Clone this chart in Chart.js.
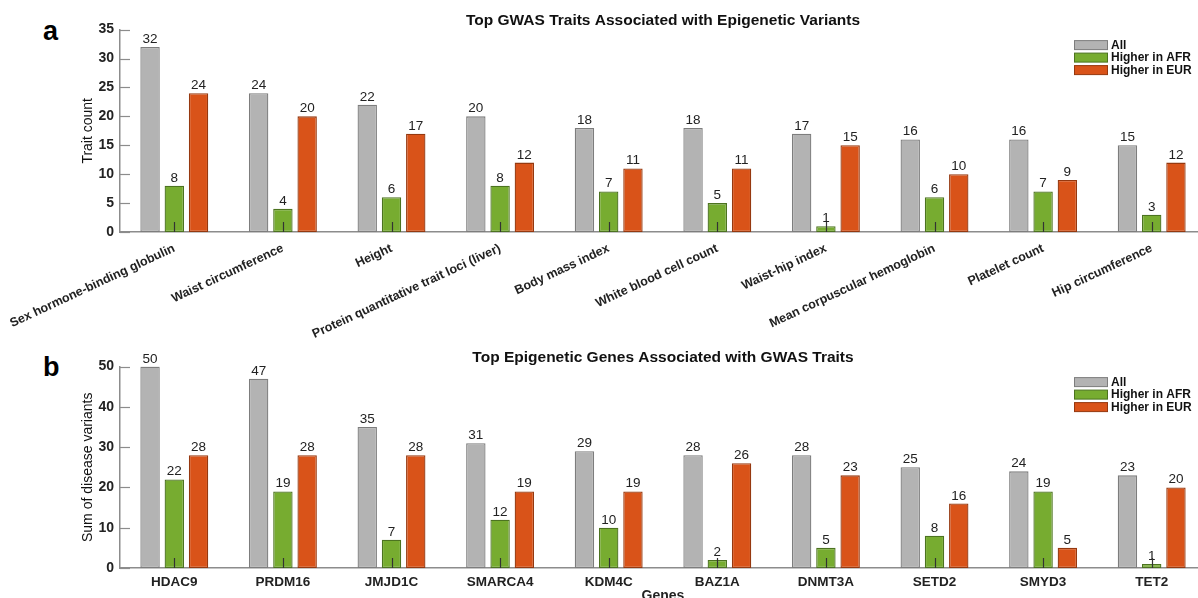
<!DOCTYPE html>
<html>
<head>
<meta charset="utf-8">
<script src="https://cdn.jsdelivr.net/npm/chart.js@4"></script>
<style>
  html, body { margin: 0; padding: 0; background: #fff; overflow: hidden; width: 1198px; height: 598px; }
  canvas { position: absolute; left: 0; }
  #topChart { top: 0; }
  #botChart { top: 345px; }
  .panel { position: absolute; left: 43px; font: bold 27px "Liberation Sans", Arial, sans-serif; color: #000; line-height: 27px; }
</style>
</head>
<body>
<div class="panel" style="top:18px">a</div>
<div class="panel" style="top:354px">b</div>
<canvas id="topChart" width="1206" height="345"></canvas>
<canvas id="botChart" width="1206" height="270"></canvas>
<script>
// data
const traits = [
  "Sex hormone-binding globulin", "Waist circumference", "Height",
  "Protein quantitative trait loci (liver)", "Body mass index",
  "White blood cell count", "Waist-hip index", "Mean corpuscular hemoglobin",
  "Platelet count", "Hip circumference"
];
const traitAll = [32, 24, 22, 20, 18, 18, 17, 16, 16, 15];
const traitAFR = [8, 4, 6, 8, 7, 5, 1, 6, 7, 3];
const traitEUR = [24, 20, 17, 12, 11, 11, 15, 10, 9, 12];
const traitTicks = [0, 5, 10, 15, 20, 25, 30, 35];

const genes = ["HDAC9", "PRDM16", "JMJD1C", "SMARCA4", "KDM4C", "BAZ1A", "DNMT3A", "SETD2", "SMYD3", "TET2"];
const geneAll = [50, 47, 35, 31, 29, 28, 28, 25, 24, 23];
const geneAFR = [22, 19, 7, 12, 10, 2, 5, 8, 19, 1];
const geneEUR = [28, 28, 28, 19, 19, 26, 23, 16, 5, 20];
const geneTicks = [0, 10, 20, 30, 40, 50];

const seriesNames = ["All", "Higher in AFR", "Higher in EUR"];
const FONT = '"Liberation Sans", Arial, sans-serif';

// numbers above bars
const valueLabels = {
  id: "valueLabels",
  afterDatasetsDraw(chart) {
    const ctx = chart.ctx;
    ctx.save();
    ctx.font = "13.5px " + FONT;
    ctx.fillStyle = "#222";
    ctx.textAlign = "center";
    ctx.textBaseline = "bottom";
    chart.data.datasets.forEach((ds, i) => {
      chart.getDatasetMeta(i).data.forEach((bar, j) => {
        ctx.fillText(ds.data[j], bar.x, bar.y - 1);
      });
    });
    ctx.restore();
  }
};

// matlab style ticks pointing into the axes
const inTicks = {
  id: "inTicks",
  afterDatasetsDraw(chart) {
    const ctx = chart.ctx;
    const area = chart.chartArea;
    const x = chart.scales.x;
    const y = chart.scales.y;
    ctx.save();
    ctx.lineWidth = 1.2;
    ctx.strokeStyle = "#8c8c8c";
    y.ticks.forEach(t => {
      const py = Math.round(y.getPixelForValue(t.value)) + 0.5;
      ctx.beginPath();
      ctx.moveTo(area.left, py);
      ctx.lineTo(area.left + 10, py);
      ctx.stroke();
    });
    ctx.strokeStyle = "#333";
    x.ticks.forEach((t, i) => {
      const px = Math.round(x.getPixelForTick(i)) + 0.5;
      ctx.beginPath();
      ctx.moveTo(px, area.bottom);
      ctx.lineTo(px, area.bottom - 10);
      ctx.stroke();
    });
    ctx.restore();
  }
};

// boxed legend in the upper right of the plot
const boxLegend = {
  id: "boxLegend",
  afterDraw(chart) {
    const ctx = chart.ctx;
    const area = chart.chartArea;
    const x0 = area.right - 132;
    ctx.save();
    ctx.font = "bold 12px " + FONT;
    ctx.textBaseline = "middle";
    ctx.textAlign = "left";
    chart.data.datasets.forEach((ds, i) => {
      const cy = area.top + 15.5 + i * 12.5;
      ctx.fillStyle = ds.backgroundColor;
      ctx.fillRect(x0, cy - 4.5, 34, 9);
      ctx.strokeStyle = ds.borderColor;
      ctx.lineWidth = 1;
      ctx.strokeRect(x0 + 0.5, cy - 4.5, 33, 9);
      ctx.fillStyle = "#111";
      ctx.fillText(ds.label, x0 + 37, cy + 0.5);
    });
    ctx.restore();
  }
};

function makeSets(all, afr, eur) {
  return [
    { label: seriesNames[0], data: all, backgroundColor: "#b3b3b3", borderColor: "#7d7d7d" },
    { label: seriesNames[1], data: afr, backgroundColor: "#77ac30", borderColor: "#4c7320" },
    { label: seriesNames[2], data: eur, backgroundColor: "#d95319", borderColor: "#95380f" }
  ].map(d => Object.assign(d, { borderWidth: 1.3, borderSkipped: false, barPercentage: 0.8, categoryPercentage: 0.67 }));
}

function makeChart(el, cats, sets, opts) {
  return new Chart(el, {
    type: "bar",
    data: { labels: cats, datasets: sets },
    options: {
      responsive: false,
      animation: false,
      layout: { padding: 0 },
      plugins: {
        legend: { display: false },
        tooltip: { enabled: false },
        title: {
          display: true,
          text: opts.title,
          fullSize: false,
          color: "#111",
          font: { family: FONT, size: 15.5, weight: "bold" },
          padding: { top: opts.titleTop, bottom: 0 }
        }
      },
      scales: {
        x: {
          grid: { display: false, drawTicks: false },
          border: { display: true, color: "#8c8c8c", width: 1.5 },
          ticks: {
            autoSkip: false,
            minRotation: opts.rot,
            maxRotation: opts.rot,
            padding: opts.xPad,
            color: "#222",
            font: { family: FONT, size: opts.xSize, weight: "bold" }
          },
          title: {
            display: !!opts.xTitle,
            text: opts.xTitle || "",
            color: "#222",
            font: { family: FONT, size: 14, weight: "bold" },
            padding: { top: 0, bottom: 10 }
          },
          afterFit: s => {
            s.height = opts.xHeight;
            // rotated labels may hang past the left edge, that is fine here
            s.paddingLeft = 0;
            s.paddingRight = 0;
          }
        },
        y: {
          min: 0,
          max: opts.yTicks[opts.yTicks.length - 1],
          grid: { display: false, drawTicks: false },
          border: { display: true, color: "#8c8c8c", width: 1.5 },
          afterBuildTicks: s => { s.ticks = opts.yTicks.map(v => ({ value: v })); },
          ticks: {
            padding: 6,
            color: "#222",
            font: { family: FONT, size: 14, weight: "bold" }
          },
          title: {
            display: true,
            text: opts.yTitle,
            color: "#111",
            font: { family: FONT, size: 14 },
            padding: { top: 80, bottom: 0 }
          },
          afterFit: s => { s.width = 120; }
        }
      }
    },
    plugins: [valueLabels, inTicks, boxLegend]
  });
}

makeChart(document.getElementById("topChart"), traits, makeSets(traitAll, traitAFR, traitEUR), {
  title: "Top GWAS Traits Associated with Epigenetic Variants",
  titleTop: 11,
  yTitle: "Trait count",
  yTicks: traitTicks,
  rot: 25,
  xPad: 9,
  xSize: 12.5,
  xHeight: 113
});

makeChart(document.getElementById("botChart"), genes, makeSets(geneAll, geneAFR, geneEUR), {
  title: "Top Epigenetic Genes Associated with GWAS Traits",
  titleTop: 3,
  yTitle: "Sum of disease variants",
  xTitle: "Genes",
  yTicks: geneTicks,
  rot: 0,
  xPad: 6,
  xSize: 13.5,
  xHeight: 47
});
</script>
</body>
</html>
